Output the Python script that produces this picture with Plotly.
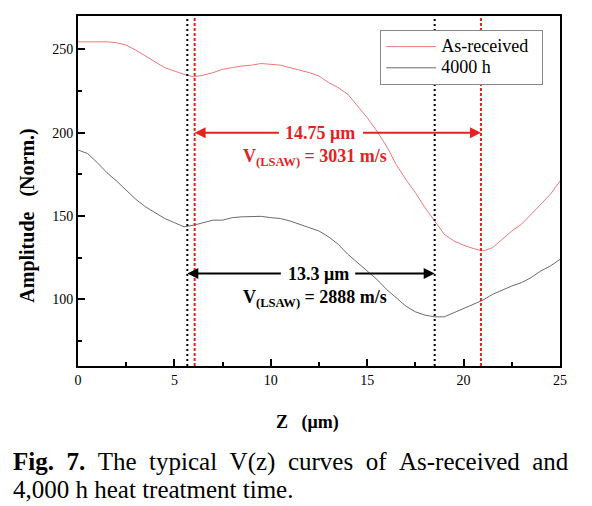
import plotly.graph_objects as go

# ---- data ----
z = [0, 0.5, 1, 1.5, 2, 2.5, 3, 3.5, 4, 4.5, 5, 5.5, 6, 6.5, 7, 7.5, 8, 8.5, 9, 9.5,
     10, 10.5, 11, 11.5, 12, 12.5, 13, 13.5, 14, 14.5, 15, 15.5, 16, 16.5, 17, 17.5,
     18, 18.5, 19, 19.5, 20, 20.5, 21, 21.5, 22, 22.5, 23, 23.5, 24, 24.5, 25]
as_received = [254.5, 254.5, 254.5, 254.5, 254, 252.5, 249.5, 246, 242, 239, 237, 235,
               233.5, 234.5, 236, 238, 239, 240, 240.5, 241.5, 241, 240.5, 239, 237.5,
               236, 234, 230, 227, 223, 216, 209, 201, 192, 181, 172, 164, 155, 147,
               139, 135, 132.5, 130.5, 129, 131, 136, 141, 145, 151, 157, 163, 171]
h4000 = [189.6, 187.5, 182, 176, 171, 165.5, 160, 155.5, 152, 148.5, 146, 143.5,
         144.5, 146, 147.5, 147.5, 149, 149.5, 149.8, 149.8, 149, 148.5, 147, 145,
         143, 141, 137.5, 133, 127, 122, 117, 112, 106, 101, 96, 92.5, 90.5, 89.5,
         89.5, 92, 94.5, 97, 99.5, 103, 105.5, 108, 110, 113, 117, 120, 124]
series_names = ["As-received", "4000 h"]

# minima markers (z positions) and arrow levels
red_minima = [6.05, 20.9]
black_minima = [5.67, 18.5]
red_label = "14.75 μm"
red_velocity = "V<sub>(LSAW)</sub> = 3031 m/s"
black_label = "13.3 μm"
black_velocity = "V<sub>(LSAW)</sub> = 2888 m/s"
red_arrow_level = 200
black_arrow_level = 115.5

x_ticks = [0, 5, 10, 15, 20, 25]
y_ticks = [100, 150, 200, 250]

caption_words = ["<b>Fig.</b>", "<b>7.</b>", "The", "typical", "V(z)", "curves", "of",
                 "As-received", "and"]
caption_line2 = "4,000 h heat treatment time."

SERIF = "Liberation Serif"
RED = "#e3231f"
RED_LINE = "#e56a6a"
GREY_LINE = "#5a5a5a"


def legend_label(name, pad=0):
    return '<span style="font-size:18px">' + name + "\u00a0" * pad + "</span>"


fig = go.Figure()
fig.add_trace(go.Scatter(x=z, y=as_received, mode="lines",
                         name=legend_label(series_names[0], 2),
                         line=dict(color=RED_LINE, width=0.9)))
fig.add_trace(go.Scatter(x=z, y=h4000, mode="lines", name=legend_label(series_names[1]),
                         line=dict(color=GREY_LINE, width=0.9)))

for xv in black_minima:
    fig.add_shape(type="line", xref="x", yref="paper", x0=xv, x1=xv, y0=0, y1=1,
                  line=dict(color="black", width=2, dash="2px,3px"))
for xv in red_minima:
    fig.add_shape(type="line", xref="x", yref="paper", x0=xv, x1=xv, y0=0, y1=1,
                  line=dict(color=RED, width=2, dash="3px,2px"))

def arrow(x_head, x_tail, yv, color):
    fig.add_annotation(x=x_head, y=yv, ax=x_tail, ay=yv, xref="x", yref="y",
                       axref="x", ayref="y", text="", showarrow=True,
                       arrowhead=2, arrowsize=1.1, arrowwidth=2, arrowcolor=color,
                       standoff=0, startstandoff=0)

# red annotation
arrow(red_minima[0], 10.5, red_arrow_level, RED)
arrow(red_minima[1], 14.7, red_arrow_level, RED)
fig.add_annotation(x=12.55, y=red_arrow_level, xref="x", yref="y", showarrow=False,
                   text="<b>" + red_label + "</b>",
                   font=dict(family=SERIF, size=18, color=RED))
fig.add_annotation(x=12.3, y=185, xref="x", yref="y", showarrow=False,
                   text="<b>" + red_velocity + "</b>",
                   font=dict(family=SERIF, size=18, color=RED))

# black annotation
arrow(black_minima[0], 10.6, black_arrow_level, "black")
arrow(black_minima[1], 14.3, black_arrow_level, "black")
fig.add_annotation(x=12.45, y=black_arrow_level, xref="x", yref="y", showarrow=False,
                   text="<b>" + black_label + "</b>",
                   font=dict(family=SERIF, size=18, color="black"))
fig.add_annotation(x=12.3, y=100.5, xref="x", yref="y", showarrow=False,
                   text="<b>" + black_velocity + "</b>",
                   font=dict(family=SERIF, size=18, color="black"))

# axis titles
fig.add_annotation(x=-0.104, y=0.429, xref="paper", yref="paper", showarrow=False,
                   xanchor="center", yanchor="middle",
                   text="<b>Amplitude\u00a0\u00a0\u00a0(Norm.)</b>", textangle=-90,
                   font=dict(family=SERIF, size=20, color="black"))
fig.add_annotation(x=0.477, y=-0.162, xref="paper", yref="paper", showarrow=False,
                   yanchor="middle",
                   text="<b>Z\u00a0\u00a0\u00a0(μm)</b>",
                   font=dict(family=SERIF, size=18, color="black"))

# caption
line1 = ("\u00a0\u00a0").join(caption_words)
fig.add_annotation(x=-0.140, y=-0.273, xref="paper", yref="paper", showarrow=False,
                   xanchor="left", yanchor="middle", text=line1,
                   font=dict(family=SERIF, size=25, color="black"))
fig.add_annotation(x=-0.140, y=-0.352, xref="paper", yref="paper", showarrow=False,
                   xanchor="left", yanchor="middle", text=caption_line2,
                   font=dict(family=SERIF, size=25, color="black"))

axis_common = dict(showline=True, linewidth=2, linecolor="black", mirror=True,
                   ticks="inside", ticklen=7, tickwidth=1.5, tickcolor="black",
                   showgrid=False, zeroline=False,
                   tickfont=dict(family=SERIF, size=14, color="black"))
fig.update_xaxes(range=[0, 25], tickvals=x_ticks,
                 minor=dict(ticks="inside", ticklen=4, tickwidth=1.5, dtick=2.5, tick0=0,
                            tickcolor="black"),
                 **axis_common)
fig.update_yaxes(range=[60, 270], tickvals=y_ticks,
                 minor=dict(ticks="inside", ticklen=4, tickwidth=1.5, dtick=25, tick0=0,
                            tickcolor="black"),
                 **axis_common)

# page body has an 8px margin, so the figure is drawn 8px smaller and shifted
fig.update_layout(
    width=584, height=498,
    margin=dict(l=70, r=32, t=6, b=140),
    plot_bgcolor="white", paper_bgcolor="white",
    legend=dict(x=0.627, y=0.96, xanchor="left", yanchor="top",
                bgcolor="white", bordercolor="#888888", borderwidth=1,
                font=dict(family=SERIF, size=14, color="black"),
                itemwidth=50, tracegroupgap=0),
    showlegend=True,
)

fig.write_html("out.html")
